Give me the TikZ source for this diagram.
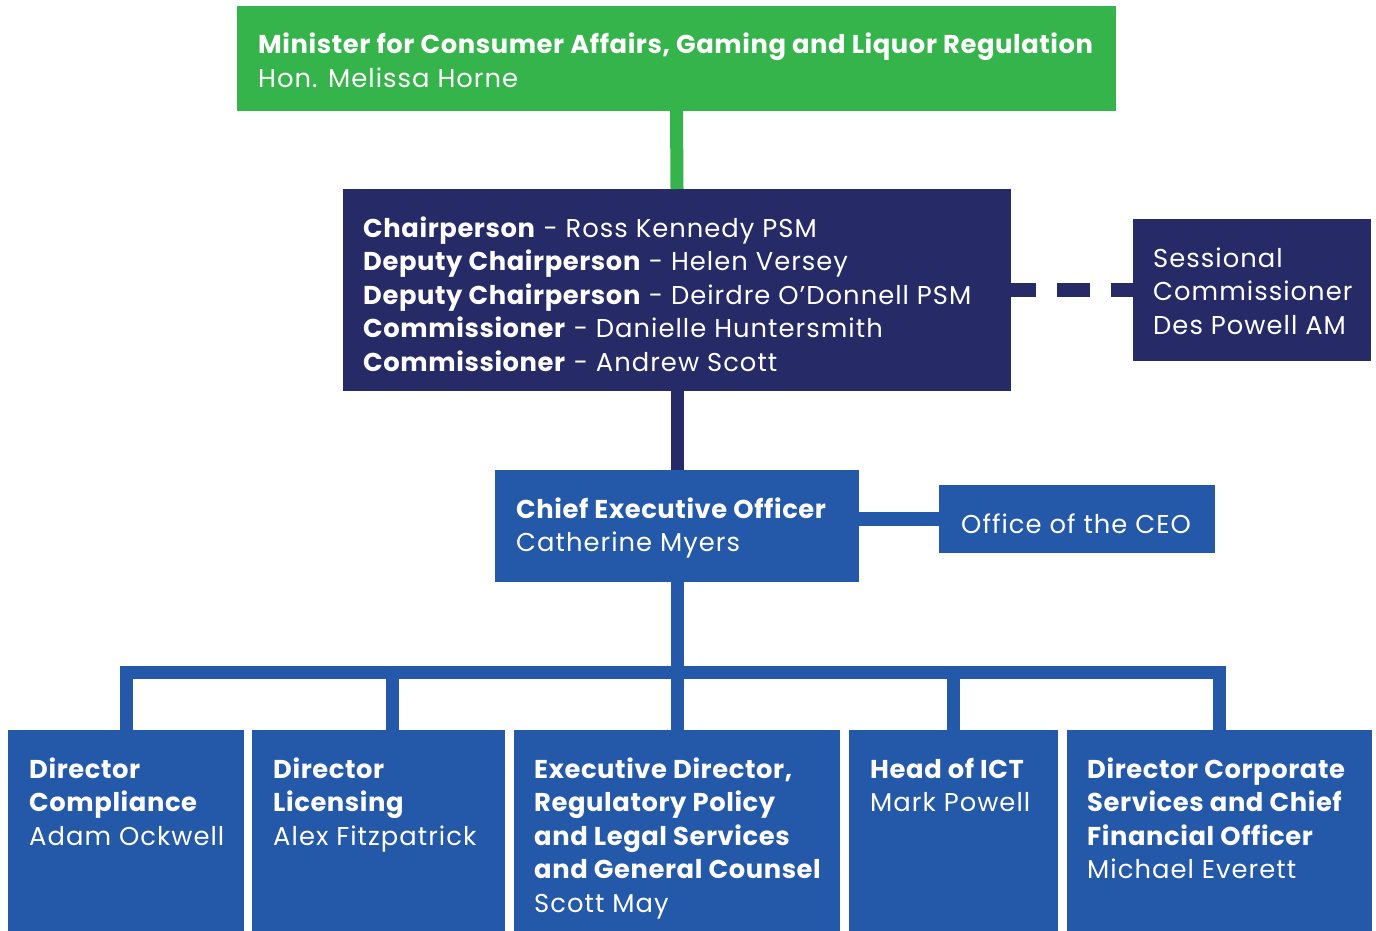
\documentclass[tikz,border=0pt]{standalone}
\usepackage{fontspec}
\setmainfont{Poppins}[UprightFeatures={LetterSpace=4}, BoldFeatures={LetterSpace=2.3}]
\usepackage{array}
\begin{document}
\begin{tikzpicture}[x=1pt,y=-1pt,
  box/.style={rectangle, inner sep=0pt, outer sep=0pt, draw=none, anchor=north west},
  label/.style={anchor=base west, inner sep=0pt, text=white, font=\fontsize{25.8}{33.6}\selectfont},
  greenline/.style={draw=mgreen, line width=13pt},
  navyline/.style={draw=mnavy, line width=13pt},
  blueline/.style={draw=mblue, line width=13pt},
  dashline/.style={draw=mnavy, line width=14pt, dash pattern=on 33pt off 21pt, dash phase=8pt}
]
\definecolor{mgreen}{HTML}{35B44B}
\definecolor{mnavy}{HTML}{262A66}
\definecolor{mblue}{HTML}{2458A8}
\newcommand{\stack}[1]{\begin{tabular}[t]{@{}l@{}}#1\end{tabular}}
\useasboundingbox (0,0) rectangle (1376,931);

% boxes
\node[box, fill=mgreen, minimum width=879pt, minimum height=105pt] (min) at (237,6) {};
\node[box, fill=mnavy, minimum width=668pt, minimum height=202pt] (board) at (343,189) {};
\node[box, fill=mnavy, minimum width=238pt, minimum height=142pt] (sess) at (1133,219) {};
\node[box, fill=mblue, minimum width=364pt, minimum height=112pt] (ceo) at (495,470) {};
\node[box, fill=mblue, minimum width=276pt, minimum height=68pt] (office) at (939,485) {};
\node[box, fill=mblue, minimum width=236pt, minimum height=201pt] (comp) at (8,730) {};
\node[box, fill=mblue, minimum width=253pt, minimum height=201pt] (lic) at (252,730) {};
\node[box, fill=mblue, minimum width=326pt, minimum height=201pt] (exec) at (514,730) {};
\node[box, fill=mblue, minimum width=209pt, minimum height=201pt] (ict) at (849,730) {};
\node[box, fill=mblue, minimum width=305pt, minimum height=201pt] (corp) at (1067,730) {};

% connectors
\draw[greenline] (min.south) -- (board.north);
\draw[navyline] (board.south) -- (ceo.north);
\draw[dashline] (board.east) -- (sess.west);
\draw[blueline, line width=14pt] (ceo.east |- office.west) -- (office.west);
\coordinate (hub) at (677,672.5);
\draw[blueline] (ceo.south) -- (hub);
\draw[blueline] (hub) -| (comp.north);
\draw[blueline] (hub) -| ([xshift=13.5pt]lic.north);
\draw[blueline] (hub) -- (exec.north);
\draw[blueline] (hub) -| (ict.north);
\draw[blueline] (hub) -| (corp.north);

% texts
\node[label] (tmin) at (258,54) {\stack{\textbf{Minister for Consumer Affairs, Gaming and Liquor Regulation}\\Hon. Melissa Horne}};
\node[label] (tboard) at (363,237) {\stack{%
  \textbf{Chairperson} - Ross Kennedy PSM\\
  \textbf{Deputy Chairperson} - Helen Versey\\
  \textbf{Deputy Chairperson} - Deirdre O’Donnell PSM\\
  \textbf{Commissioner} - Danielle Huntersmith\\
  \textbf{Commissioner} - Andrew Scott}};
\node[label] (tsess) at (1153,267) {\stack{Sessional\\Commissioner\\Des Powell AM}};
\node[label] (tceo) at (516,518) {\stack{\textbf{Chief Executive Officer}\\Catherine Myers}};
\node[label] (toffice) at (961,533) {Office of the CEO};
\node[label] (tcomp) at (29,778) {\stack{\textbf{Director}\\\textbf{Compliance}\\Adam Ockwell}};
\node[label] (tlic) at (273,778) {\stack{\textbf{Director}\\\textbf{Licensing}\\Alex Fitzpatrick}};
\node[label] (texec) at (534,778) {\stack{\textbf{Executive Director,}\\\textbf{Regulatory Policy}\\\textbf{and Legal Services}\\\textbf{and General Counsel}\\Scott May}};
\node[label] (tict) at (870,778) {\stack{\textbf{Head of ICT}\\Mark Powell}};
\node[label] (tcorp) at (1087,778) {\stack{\textbf{Director Corporate}\\\textbf{Services and Chief}\\\textbf{Financial Officer}\\Michael Everett}};
\end{tikzpicture}
\end{document}
